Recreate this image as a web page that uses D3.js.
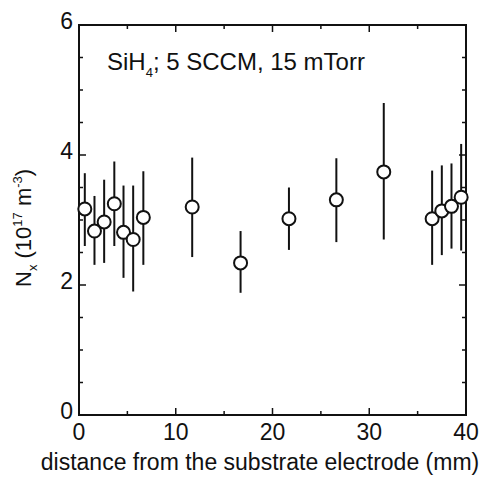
<!DOCTYPE html>
<html>
<head>
<meta charset="utf-8">
<script src="https://cdn.jsdelivr.net/npm/d3@7"></script>
<style>
  body { margin: 0; background: #fff; }
  text { font-family: "Liberation Sans", Arial, sans-serif; fill: #111; }
</style>
</head>
<body>
<svg id="chart" width="501" height="478"></svg>
<script>
'use strict';

// distance from substrate electrode (mm)
const distance = [0.6, 1.6, 2.6, 3.65, 4.6, 5.6, 6.65, 11.7, 16.7, 21.7, 26.6, 31.5, 36.5, 37.5, 38.5, 39.5];
// N_x (10^17 m^-3)
const density = [3.17, 2.83, 2.97, 3.25, 2.81, 2.70, 3.04, 3.20, 2.34, 3.02, 3.31, 3.74, 3.02, 3.14, 3.21, 3.35];
const errHigh = [3.72, 3.37, 3.62, 3.90, 3.53, 3.53, 3.75, 3.96, 2.83, 3.50, 3.95, 4.80, 3.76, 3.84, 3.87, 4.17];
const errLow  = [2.60, 2.31, 2.34, 2.60, 2.11, 1.90, 2.31, 2.43, 1.88, 2.54, 2.66, 2.70, 2.31, 2.46, 2.56, 2.53];

const xTicks = [0, 10, 20, 30, 40];
const yTicks = [0, 2, 4, 6];

const svg = d3.select('#chart');
const plotL = 79, plotR = 466, plotT = 25, plotB = 415;

let x = d3.scaleLinear().domain([0, 40]).range([plotL, plotR]);
let y = d3.scaleLinear().domain([0, 6]).range([plotB, plotT]);

// frame
svg.append('rect')
    .attr('x', plotL).attr('y', plotT)
    .attr('width', plotR - plotL).attr('height', plotB - plotT)
    .style('fill', 'none')
    .style('stroke', '#111')
    .style('stroke-width', 2);

// inward ticks on all four sides
let tickG = svg.append('g').style('stroke', '#111').style('stroke-width', 1.5);
d3.range(0, 40.01, 5).forEach(function(v) {
    let len = v % 10 === 0 ? 7 : 4;
    tickG.append('line').attr('x1', x(v)).attr('x2', x(v))
        .attr('y1', plotB).attr('y2', plotB - len);
    tickG.append('line').attr('x1', x(v)).attr('x2', x(v))
        .attr('y1', plotT).attr('y2', plotT + len);
});
d3.range(0, 6.01, 0.5).forEach(function(v) {
    let len = v % 2 === 0 ? 7 : 4;
    tickG.append('line').attr('y1', y(v)).attr('y2', y(v))
        .attr('x1', plotL).attr('x2', plotL + len);
    tickG.append('line').attr('y1', y(v)).attr('y2', y(v))
        .attr('x1', plotR).attr('x2', plotR - len);
});

// tick labels
svg.append('g').selectAll('text')
    .data(xTicks)
    .enter().append('text')
    .attr('x', function(d) { return x(d); })
    .attr('y', 440)
    .attr('text-anchor', 'middle')
    .style('font-size', '23px')
    .text(function(d) { return d; });

svg.append('g').selectAll('text')
    .data(yTicks)
    .enter().append('text')
    .attr('x', 73)
    .attr('y', function(d) { return y(d) - 4; })
    .attr('dy', '.35em')
    .attr('text-anchor', 'end')
    .style('font-size', '23px')
    .text(function(d) { return d; });

// axis titles
svg.append('text')
    .attr('x', 260)
    .attr('y', 470)
    .attr('text-anchor', 'middle')
    .style('font-size', '23px')
    .text('distance from the substrate electrode (mm)');

let yl = svg.append('text')
    .attr('transform', 'translate(31,287) rotate(-90)')
    .attr('text-anchor', 'start')
    .style('font-size', '22px');
yl.append('tspan').text('N');
yl.append('tspan').attr('dy', 6).style('font-size', '13px').text('x');
yl.append('tspan').attr('dy', -6).text(' (10');
yl.append('tspan').attr('dy', -9).style('font-size', '13px').text('17');
yl.append('tspan').attr('dy', 9).text(' m');
yl.append('tspan').attr('dy', -9).style('font-size', '13px').text('-3');
yl.append('tspan').attr('dy', 9).text(')');

// annotation
let note = svg.append('text')
    .attr('x', 107).attr('y', 70)
    .style('font-size', '24px');
note.append('tspan').text('SiH');
note.append('tspan').attr('dy', 7).style('font-size', '13px').text('4');
note.append('tspan').attr('dy', -7).text('; 5 SCCM, 15 mTorr');

// error bars
svg.append('g').selectAll('line')
    .data(distance)
    .enter().append('line')
    .attr('x1', function(d) { return x(d); })
    .attr('x2', function(d) { return x(d); })
    .attr('y1', function(d, i) { return y(errHigh[i]); })
    .attr('y2', function(d, i) { return y(errLow[i]); })
    .style('stroke', '#111')
    .style('stroke-width', 2);

// points
svg.append('g').selectAll('circle')
    .data(distance)
    .enter().append('circle')
    .attr('cx', function(d) { return x(d); })
    .attr('cy', function(d, i) { return y(density[i]); })
    .attr('r', 6.5)
    .style('fill', '#fff')
    .style('stroke', '#111')
    .style('stroke-width', 2);
</script>
</body>
</html>
